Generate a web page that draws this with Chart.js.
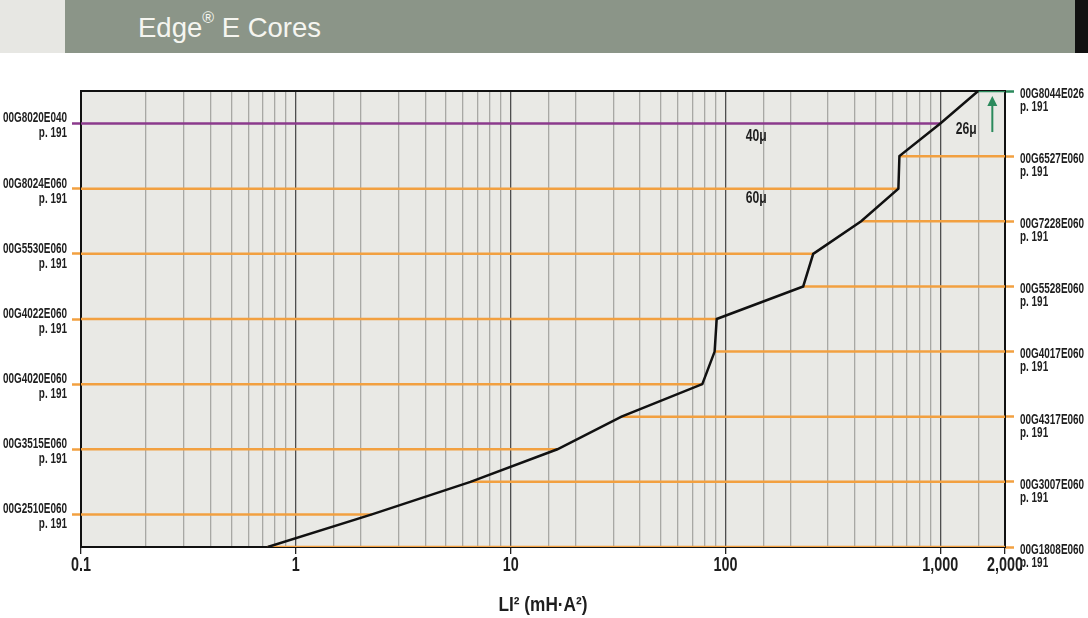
<!DOCTYPE html>
<html>
<head>
<meta charset="utf-8">
<script src="https://cdn.jsdelivr.net/npm/chart.js@4.4.1/dist/chart.umd.min.js"></script>
<style>
  html, body { margin: 0; padding: 0; background: #fff; width: 1088px; height: 618px; overflow: hidden; font-family: 'Liberation Sans', Arial, sans-serif; }
  #header { position: absolute; left: 0; top: 0; width: 1088px; height: 53px; background: #e7e7e3; }
  #bar { position: absolute; left: 65px; top: 0; width: 1010px; height: 53px; background: #8b9588; }
  #edge { position: absolute; left: 1075px; top: 0; width: 13px; height: 53px; background: #111; }
  #title { position: absolute; left: 138px; top: 12px; color: #f5f5f0; font-size: 27.5px; }
  #title sup { font-size: 16px; vertical-align: top; position: relative; top: -3px; }
  #wrap { position: absolute; left: 0; top: 53px; width: 1088px; height: 565px; }
</style>
</head>
<body>
<div id="header"><div id="bar"></div><div id="edge"></div><div id="title">Edge<sup>®</sup> E Cores</div></div>
<div id="wrap"><canvas id="chart" width="1088" height="565"></canvas></div>
<script>
// core part numbers, bottom to top of the chart
const partNumbers = ["00G1808E060", "00G2510E060", "00G3007E060", "00G3515E060", "00G4317E060",
  "00G4020E060", "00G4017E060", "00G4022E060", "00G5528E060", "00G5530E060",
  "00G7228E060", "00G8024E060", "00G6527E060", "00G8020E040", "00G8044E026"];
const pageRefs = ["p. 191", "p. 191", "p. 191", "p. 191", "p. 191", "p. 191", "p. 191", "p. 191",
  "p. 191", "p. 191", "p. 191", "p. 191", "p. 191", "p. 191", "p. 191"];
const labelSide = ["right", "left", "right", "left", "right", "left", "right", "left",
  "right", "left", "right", "left", "right", "left", "right"];
const permeability = [60, 60, 60, 60, 60, 60, 60, 60, 60, 60, 60, 60, 60, 40, 26];
// LI^2 where the selector curve crosses each core level
const curveLI2 = [0.74, 2.26, 6.5, 16.5, 32.8, 78, 89, 91, 230, 256, 428, 638, 645, 1000, 1500];
const xTickValues = [0.1, 1, 10, 100, 1000, 2000];
const xTickLabels = ["0.1", "1", "10", "100", "1,000", "2,000"];
const xMin = 0.1, xMax = 2000;

const FONT = "'Liberation Sans', Arial, sans-serif";
const INK = "#1e1e1e";
const permColor = { 60: "#f2a040", 40: "#8b3a8c", 26: "#2b8a5c" };

function lineColor(i) {
  return permColor[permeability[i]];
}
function tickIndex(v) {
  return xTickValues.findIndex(t => Math.abs(t - v) / t < 1e-6);
}
function isDecade(v) {
  const l = Math.log10(v);
  return Math.abs(l - Math.round(l)) < 1e-6;
}
// the print uses a condensed face, so squeeze text horizontally
function squeezed(ctx, text, x, y, align, sx) {
  ctx.save();
  ctx.translate(x, y);
  ctx.scale(sx, 1);
  ctx.textAlign = align;
  ctx.fillText(text, 0, 0);
  ctx.restore();
}

// curve first so it is drawn on top
const datasets = [{
  data: curveLI2.map((x, i) => ({ x: x, y: i })),
  borderColor: "#111",
  borderWidth: 2.5,
  pointRadius: 0,
  tension: 0
}];
curveLI2.forEach((x, i) => {
  const pts = labelSide[i] === "left"
    ? [{ x: xMin, y: i }, { x: x, y: i }]
    : [{ x: x, y: i }, { x: xMax, y: i }];
  datasets.push({
    data: pts,
    borderColor: lineColor(i),
    borderWidth: 2.5,
    pointRadius: 0
  });
});

const frame = {
  id: "frame",
  beforeDraw(chart) {
    const { ctx, chartArea: a } = chart;
    ctx.save();
    ctx.fillStyle = "#e9e9e5";
    ctx.fillRect(a.left, a.top, a.width, a.height);
    ctx.restore();
  },
  beforeDatasetsDraw(chart) {
    const { ctx, chartArea: a } = chart;
    ctx.save();
    ctx.strokeStyle = "#111";
    ctx.lineWidth = 2;
    ctx.strokeRect(a.left, a.top, a.width, a.height);
    ctx.restore();
  },
  afterDatasetsDraw(chart) {
    const { ctx, chartArea: a } = chart;
    const x = chart.scales.x, y = chart.scales.y;
    ctx.save();
    ctx.fillStyle = INK;
    ctx.textBaseline = "middle";

    // part number labels on both sides
    ctx.font = "bold 14px " + FONT;
    y.ticks.forEach(t => {
      const i = t.value;
      const py = y.getPixelForValue(i);
      if (labelSide[i] === "left") {
        squeezed(ctx, partNumbers[i], a.left - 14, py - 5, "right", 0.71);
        squeezed(ctx, pageRefs[i], a.left - 14, py + 10, "right", 0.71);
      } else {
        squeezed(ctx, partNumbers[i], a.right + 15, py + 3, "left", 0.71);
        squeezed(ctx, pageRefs[i], a.right + 15, py + 16, "left", 0.71);
      }
    });

    // x tick labels and title
    ctx.font = "bold 20px " + FONT;
    x.ticks.forEach(t => {
      const k = tickIndex(t.value);
      if (k >= 0) squeezed(ctx, xTickLabels[k], x.getPixelForValue(t.value), a.bottom + 18, "center", 0.72);
    });
    ctx.font = "bold 21px " + FONT;
    squeezed(ctx, "LI² (mH·A²)", (a.left + a.right) / 2, a.bottom + 58, "center", 0.82);

    // permeability notes
    ctx.font = "bold 16px " + FONT;
    squeezed(ctx, "40μ", x.getPixelForValue(139), y.getPixelForValue(12.6), "center", 0.76);
    squeezed(ctx, "60μ", x.getPixelForValue(139), y.getPixelForValue(10.7), "center", 0.76);
    squeezed(ctx, "26μ", x.getPixelForValue(1321), y.getPixelForValue(12.83), "center", 0.76);

    // green arrow
    const ax = x.getPixelForValue(1746);
    const y0 = y.getPixelForValue(12.74), y1 = y.getPixelForValue(13.85);
    ctx.strokeStyle = permColor[26];
    ctx.fillStyle = permColor[26];
    ctx.lineWidth = 2;
    ctx.beginPath();
    ctx.moveTo(ax, y0);
    ctx.lineTo(ax, y1 + 8);
    ctx.stroke();
    ctx.beginPath();
    ctx.moveTo(ax, y1);
    ctx.lineTo(ax - 5, y1 + 10);
    ctx.lineTo(ax + 5, y1 + 10);
    ctx.closePath();
    ctx.fill();
    ctx.restore();
  }
};

function yAxis(side, width) {
  return {
    type: "linear",
    position: side,
    min: 0,
    max: 14,
    afterFit(s) { s.width = width; },
    border: { display: false },
    grid: {
      drawOnChartArea: false,
      drawTicks: true,
      tickLength: 9,
      tickWidth: 2.5,
      tickColor: c => labelSide[c.tick.value] === side ? lineColor(c.tick.value) : "rgba(0,0,0,0)"
    },
    ticks: { stepSize: 1, autoSkip: false, display: false }
  };
}

new Chart(document.getElementById("chart"), {
  type: "line",
  data: { datasets: datasets },
  options: {
    responsive: false,
    animation: false,
    devicePixelRatio: 1,
    layout: { padding: { top: 38, left: 0, right: 0, bottom: 0 } },
    plugins: { legend: { display: false }, tooltip: { enabled: false } },
    scales: {
      x: {
        type: "logarithmic",
        position: "bottom",
        min: xMin,
        max: xMax,
        afterFit(s) { s.height = 71; },
        border: { display: false },
        grid: {
          color: c => isDecade(c.tick.value) ? "#4e4e4e" : "#a8a8a4",
          lineWidth: 1.3,
          tickLength: 7,
          tickColor: c => tickIndex(c.tick.value) >= 0 ? "#222" : "rgba(0,0,0,0)"
        },
        ticks: { autoSkip: false, maxRotation: 0, display: false }
      },
      y: yAxis("left", 81),
      y2: yAxis("right", 83)
    }
  },
  plugins: [frame]
});
</script>
</body>
</html>
